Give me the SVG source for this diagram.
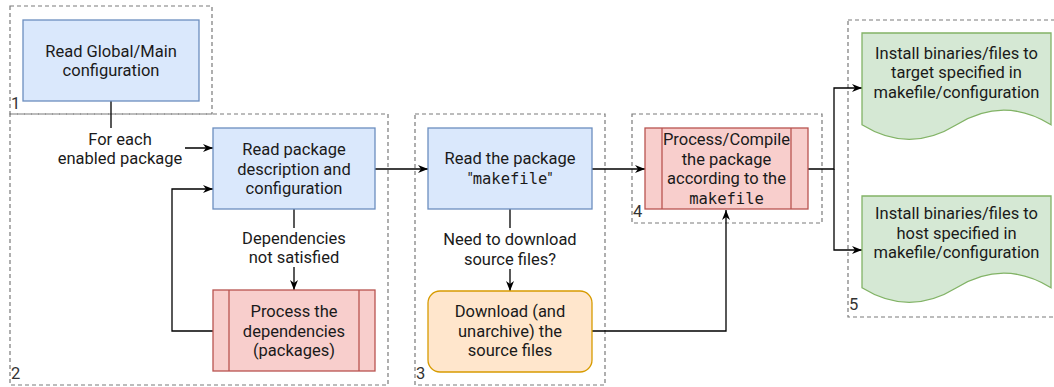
<svg xmlns="http://www.w3.org/2000/svg" width="1054" height="387" viewBox="0 0 1054 387">
<defs>
<style>
.grp{fill:none;stroke:#7a7a7a;stroke-width:1.2;stroke-dasharray:4 3}
.gl{font-family:Roboto,"Noto Sans",sans-serif;font-size:16.5px;fill:#333}
.t{font-family:Roboto,"Noto Sans",sans-serif;font-size:16.5px;fill:#1a1a1a;text-anchor:middle}
.m{font-family:"DejaVu Sans Mono","Liberation Mono",monospace;font-size:15.5px}
.blue{fill:#dae8fc;stroke:#6c8ebf;stroke-width:1.3}
.red{fill:#f8cecc;stroke:#b85450;stroke-width:1.3}
.orange{fill:#ffe6cc;stroke:#d79b00;stroke-width:1.3}
.green{fill:#d5e8d4;stroke:#82b366;stroke-width:1.3}
.e{fill:none;stroke:#000;stroke-width:1.3}
.lbg{fill:#fff}
</style>
<marker id="arr" viewBox="0 0 10 10" refX="10" refY="5" markerWidth="10" markerHeight="10" markerUnits="userSpaceOnUse" orient="auto">
<path d="M0,1 L10,5 L0,9 L3,5 z" fill="#000"/>
</marker>
</defs>
<rect width="1054" height="387" fill="#fff"/>

<g id="groups">
<g id="group1"><rect class="grp" x="10" y="6" width="202" height="108"/><text class="gl" x="11" y="109">1</text></g>
<g id="group2"><rect class="grp" x="10" y="114" width="378" height="271"/><text class="gl" x="11" y="379">2</text></g>
<g id="group3"><rect class="grp" x="415" y="114" width="190" height="271"/><text class="gl" x="416" y="379">3</text></g>
<g id="group4"><rect class="grp" x="632" y="114" width="190" height="109"/><text class="gl" x="633" y="217">4</text></g>
<g id="group5"><rect class="grp" x="848" y="20" width="220" height="297"/><text class="gl" x="849" y="310">5</text></g>
</g>

<g id="connectors">
<path class="e" d="M111,101 V148 H213" marker-end="url(#arr)"/>
<path class="e" d="M213,331 H172 V189 H213" marker-end="url(#arr)"/>
<path class="e" d="M294,209 V290" marker-end="url(#arr)"/>
<path class="e" d="M375,169 H428" marker-end="url(#arr)"/>
<path class="e" d="M510,209 V291" marker-end="url(#arr)"/>
<path class="e" d="M592,169 H645" marker-end="url(#arr)"/>
<path class="e" d="M592,331 H726 V210" marker-end="url(#arr)"/>
<path class="e" d="M808,169 H834 V88 H862" marker-end="url(#arr)"/>
<path class="e" d="M834,169 V250 H862" marker-end="url(#arr)"/>
<g id="labels">
<rect class="lbg" x="55" y="128" width="130" height="40"/>
<text class="t" x="120" y="144.5">For each<tspan x="120" dy="19.5">enabled package</tspan></text>
<rect class="lbg" x="236" y="228" width="116" height="39"/>
<text class="t" x="294" y="243.5">Dependencies<tspan x="294" dy="19.5">not satisfied</tspan></text>
<rect class="lbg" x="438" y="228" width="144" height="41"/>
<text class="t" x="510" y="244.5">Need to download<tspan x="510" dy="20">source files?</tspan></text>
</g>
</g>

<g id="node-global">
<rect class="blue" x="23" y="20" width="176" height="81"/>
<text class="t" x="111" y="56.5">Read Global/Main<tspan x="111" dy="19.5">configuration</tspan></text>
</g>

<g id="node-readpkg">
<rect class="blue" x="213" y="128" width="162" height="81"/>
<text class="t" x="294" y="155">Read package<tspan x="294" dy="19.5">description and</tspan><tspan x="294" dy="19.5">configuration</tspan></text>
</g>

<g id="node-deps">
<rect class="red" x="213" y="290" width="162" height="81"/>
<line class="red" x1="229" y1="290" x2="229" y2="371"/>
<line class="red" x1="359" y1="290" x2="359" y2="371"/>
<text class="t" x="294" y="317">Process the<tspan x="294" dy="19.5">dependencies</tspan><tspan x="294" dy="19.5">(packages)</tspan></text>
</g>

<g id="node-makefile">
<rect class="blue" x="428" y="128" width="164" height="81"/>
<text class="t" x="510" y="164">Read the package<tspan x="510" dy="20">"<tspan class="m">makefile</tspan>"</tspan></text>
</g>

<g id="node-download">
<rect class="orange" x="428" y="291" width="164" height="81" rx="12" ry="12"/>
<text class="t" x="510" y="317">Download (and<tspan x="510" dy="19.5">unarchive) the</tspan><tspan x="510" dy="19.5">source files</tspan></text>
</g>

<g id="node-compile">
<rect class="red" x="645" y="128" width="163" height="81"/>
<line class="red" x1="662" y1="128" x2="662" y2="209"/>
<line class="red" x1="791" y1="128" x2="791" y2="209"/>
<text class="t" x="726.5" y="145">Process/Compile<tspan x="726.5" dy="19.5">the package</tspan><tspan x="726.5" dy="19.5">according to the</tspan><tspan x="726.5" dy="19.5" class="m">makefile</tspan></text>
</g>

<g id="node-target">
<path class="green" d="M862,33 H1051 V124.8 Q1003.75,95.6 956.5,124.8 Q909.25,154 862,124.8 Z"/>
<text class="t" x="956.5" y="58.5">Install binaries/files to<tspan x="956.5" dy="19.5">target specified in</tspan><tspan x="956.5" dy="19.5">makefile/configuration</tspan></text>
</g>

<g id="node-host">
<path class="green" d="M862,196 H1051 V287.8 Q1003.75,258.6 956.5,287.8 Q909.25,317 862,287.8 Z"/>
<text class="t" x="956.5" y="219">Install binaries/files to<tspan x="956.5" dy="19.5">host specified in</tspan><tspan x="956.5" dy="19.5">makefile/configuration</tspan></text>
</g>
</svg>
